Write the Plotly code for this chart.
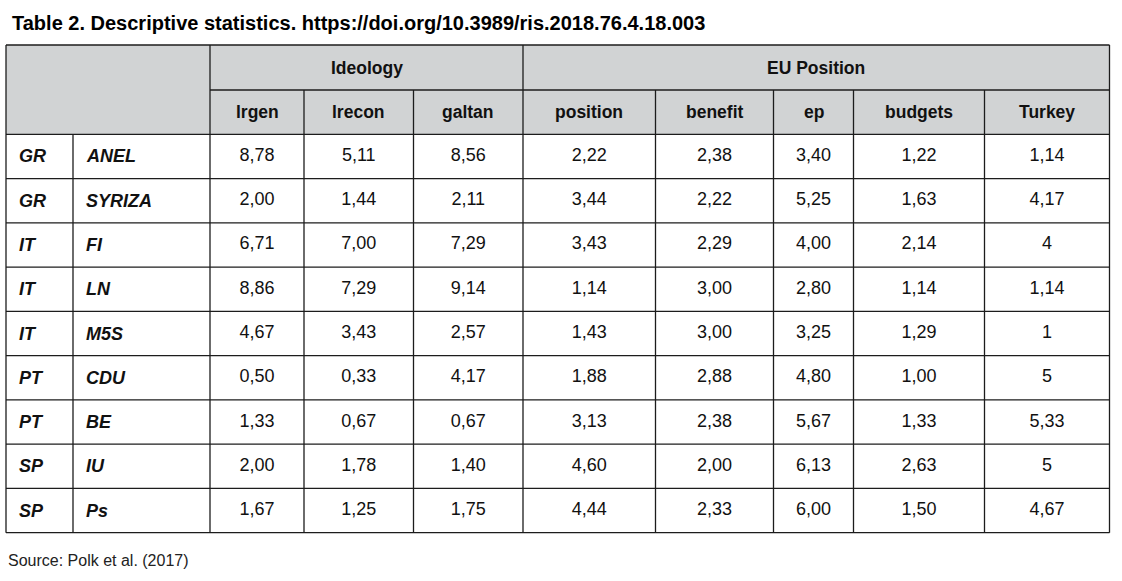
import plotly.graph_objects as go

# ---- data ----
countries = ["GR", "GR", "IT", "IT", "IT", "PT", "PT", "SP", "SP"]
parties = ["ANEL", "SYRIZA", "FI", "LN", "M5S", "CDU", "BE", "IU", "Ps"]
lrgen = [8.78, 2.00, 6.71, 8.86, 4.67, 0.50, 1.33, 2.00, 1.67]
lrecon = [5.11, 1.44, 7.00, 7.29, 3.43, 0.33, 0.67, 1.78, 1.25]
galtan = [8.56, 2.11, 7.29, 9.14, 2.57, 4.17, 0.67, 1.40, 1.75]
position = [2.22, 3.44, 3.43, 1.14, 1.43, 1.88, 3.13, 4.60, 4.44]
benefit = [2.38, 2.22, 2.29, 3.00, 3.00, 2.88, 2.38, 2.00, 2.33]
ep = [3.40, 5.25, 4.00, 2.80, 3.25, 4.80, 5.67, 6.13, 6.00]
budgets = [1.22, 1.63, 2.14, 1.14, 1.29, 1.00, 1.33, 2.63, 1.50]
turkey = [1.14, 4.17, 4, 1.14, 1, 5, 5.33, 5, 4.67]

group_labels = ["Ideology", "EU Position"]
column_labels = ["lrgen", "lrecon", "galtan", "position", "benefit", "ep", "budgets", "Turkey"]
title_text = "Table 2. Descriptive statistics. https://doi.org/10.3989/ris.2018.76.4.18.003"
source_text = "Source: Polk et al. (2017)"

value_columns = [lrgen, lrecon, galtan, position, benefit, ep, budgets, turkey]


def fmt_fixed(v):
    return f"{v:.2f}".replace(".", ",")


def fmt_plain(v):
    if float(v).is_integer():
        return str(int(v))
    return f"{v:.2f}".replace(".", ",")


formatters = [fmt_fixed] * 7 + [fmt_plain]

# ---- layout geometry (pixel space) ----
W, H = 1122, 581
col_edges = [6, 73, 210, 304, 413.5, 523, 655.5, 773.5, 853.5, 984.5, 1109.5]
top = 45
head_mid = 90
head_bot = 134.3
bottom = 532.7
n_rows = len(parties)
row_h = (bottom - head_bot) / n_rows
row_edges = [head_bot + i * row_h for i in range(n_rows + 1)]
row_centers = [(row_edges[i] + row_edges[i + 1]) / 2 for i in range(n_rows)]

line_col = "#1c1c1c"
lw = 1.3
gray = "#d1d3d4"
font_family = "Liberation Sans, Arial, sans-serif"
txt_col = "#111111"

shapes = []
# header fill
shapes.append(dict(type="rect", xref="x", yref="y", x0=col_edges[0], x1=col_edges[-1],
                   y0=top, y1=head_bot, fillcolor=gray, line=dict(width=0), layer="below"))


def hline(y, x0, x1):
    shapes.append(dict(type="line", xref="x", yref="y", x0=x0, x1=x1, y0=y, y1=y,
                       line=dict(color=line_col, width=lw)))


def vline(x, y0, y1):
    shapes.append(dict(type="line", xref="x", yref="y", x0=x, x1=x, y0=y0, y1=y1,
                       line=dict(color=line_col, width=lw)))


hline(top, col_edges[0], col_edges[-1])
hline(head_mid, col_edges[2], col_edges[-1])
for y in row_edges:
    hline(y, col_edges[0], col_edges[-1])

for i, x in enumerate(col_edges):
    if i in (0, 2, 5, 10):
        vline(x, top, bottom)
    elif i == 1:
        vline(x, head_bot, bottom)
    else:
        vline(x, head_mid, bottom)

fig = go.Figure()

# data cells
for j, (vals, f) in enumerate(zip(value_columns, formatters)):
    cx = (col_edges[j + 2] + col_edges[j + 3]) / 2
    fig.add_trace(go.Scatter(
        x=[cx] * n_rows, y=row_centers, mode="text",
        text=[f(v) for v in vals], textposition="middle center",
        textfont=dict(family=font_family, size=18, color=txt_col),
        hoverinfo="skip", showlegend=False, cliponaxis=False))

annotations = []
# row labels
for i in range(n_rows):
    annotations.append(dict(x=col_edges[0] + 11, y=row_centers[i], xref="x", yref="y",
                            text=f"<b><i>{countries[i]}</i></b>", showarrow=False,
                            xanchor="left", yanchor="middle",
                            font=dict(family=font_family, size=18, color=txt_col)))
    annotations.append(dict(x=col_edges[1] + 10.5, y=row_centers[i], xref="x", yref="y",
                            text=f"<b><i>{parties[i]}</i></b>", showarrow=False,
                            xanchor="left", yanchor="middle",
                            font=dict(family=font_family, size=18, color=txt_col)))

# group headers
annotations.append(dict(x=(col_edges[2] + col_edges[5]) / 2, y=(top + head_mid) / 2,
                        xref="x", yref="y", text=f"<b>{group_labels[0]}</b>", showarrow=False,
                        xanchor="center", yanchor="middle",
                        font=dict(family=font_family, size=17.5, color=txt_col)))
annotations.append(dict(x=(col_edges[5] + col_edges[10]) / 2, y=(top + head_mid) / 2,
                        xref="x", yref="y", text=f"<b>{group_labels[1]}</b>", showarrow=False,
                        xanchor="center", yanchor="middle",
                        font=dict(family=font_family, size=17.5, color=txt_col)))
# column headers
for j, lab in enumerate(column_labels):
    cx = (col_edges[j + 2] + col_edges[j + 3]) / 2
    annotations.append(dict(x=cx, y=(head_mid + head_bot) / 2, xref="x", yref="y",
                            text=f"<b>{lab}</b>", showarrow=False,
                            xanchor="center", yanchor="middle",
                            font=dict(family=font_family, size=17.5, color=txt_col)))

# title & source
annotations.append(dict(x=10, y=23, xref="x", yref="y", text=f"<b>{title_text}</b>",
                        showarrow=False, xanchor="left", yanchor="middle",
                        font=dict(family=font_family, size=20, color="#000000")))
annotations.append(dict(x=6, y=560, xref="x", yref="y", text=source_text,
                        showarrow=False, xanchor="left", yanchor="middle",
                        font=dict(family=font_family, size=16, color="#222222")))

fig.update_layout(
    width=W, height=H,
    margin=dict(l=0, r=0, t=0, b=0),
    paper_bgcolor="white", plot_bgcolor="white",
    xaxis=dict(range=[0, W], visible=False, fixedrange=True),
    yaxis=dict(range=[H, 0], visible=False, fixedrange=True),
    shapes=shapes, annotations=annotations,
)

fig.write_html("out.html", config={"displayModeBar": False},
               post_script="document.body.style.margin='0';document.body.style.overflow='hidden';")
